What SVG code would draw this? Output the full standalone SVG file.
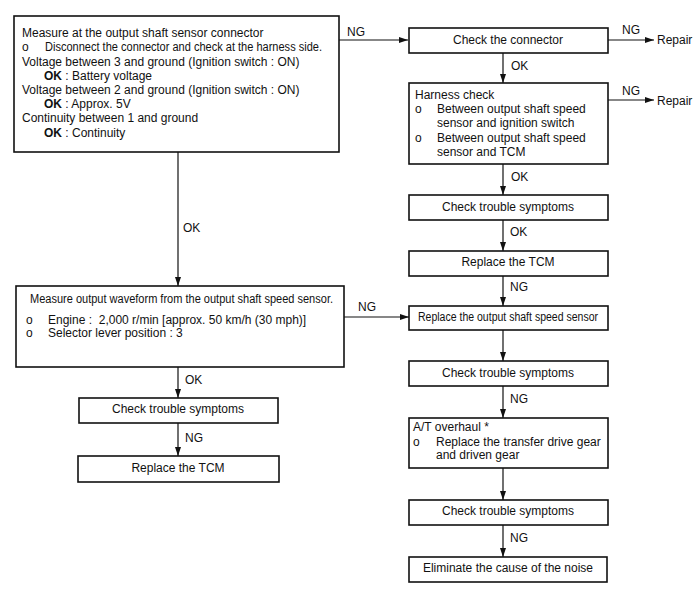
<svg xmlns="http://www.w3.org/2000/svg" width="700" height="600" viewBox="0 0 700 600">
<style>
text{font-family:"Liberation Sans",Arial,sans-serif;font-size:12px;fill:#111}
.c{text-anchor:middle}
.b{font-weight:bold}
rect{fill:#fff;stroke:#111;stroke-width:1.6}
.e line,.e path{stroke:#111;stroke-width:1.2;fill:none}
</style>
<defs>
<marker id="a" markerWidth="9" markerHeight="6" refX="9" refY="3" orient="auto" markerUnits="userSpaceOnUse">
<path d="M0,0 L9,3 L0,6 Z" fill="#111"/>
</marker>
</defs>
<rect width="700" height="600" style="fill:#fff;stroke:none"/>
<g class="e" id="connectors">
<line x1="339" y1="40" x2="408" y2="40" marker-end="url(#a)"/>
<line x1="608" y1="40" x2="654" y2="40" marker-end="url(#a)"/>
<line x1="608" y1="100" x2="654" y2="100" marker-end="url(#a)"/>
<line x1="503" y1="53" x2="503" y2="83" marker-end="url(#a)"/>
<line x1="503" y1="164" x2="503" y2="195" marker-end="url(#a)"/>
<line x1="503" y1="220" x2="503" y2="251" marker-end="url(#a)"/>
<line x1="503" y1="276" x2="503" y2="306" marker-end="url(#a)"/>
<line x1="503" y1="330" x2="503" y2="361" marker-end="url(#a)"/>
<line x1="503" y1="386" x2="503" y2="418" marker-end="url(#a)"/>
<line x1="503" y1="468" x2="503" y2="500" marker-end="url(#a)"/>
<line x1="503" y1="525" x2="503" y2="557" marker-end="url(#a)"/>
<line x1="178" y1="152" x2="178" y2="286" marker-end="url(#a)"/>
<line x1="344" y1="317" x2="409" y2="317" marker-end="url(#a)"/>
<line x1="178" y1="367" x2="178" y2="398" marker-end="url(#a)"/>
<line x1="178" y1="423" x2="178" y2="456" marker-end="url(#a)"/>
<text x="347" y="36">NG</text>
<text x="622" y="34">NG</text>
<text x="657" y="44">Repair</text>
<text x="622" y="95">NG</text>
<text x="657" y="105">Repair</text>
<text x="511" y="70">OK</text>
<text x="511" y="181">OK</text>
<text x="510" y="236">OK</text>
<text x="510" y="291">NG</text>
<text x="510" y="403">NG</text>
<text x="510" y="542">NG</text>
<text x="183" y="232">OK</text>
<text x="358" y="311">NG</text>
<text x="185" y="384">OK</text>
<text x="185" y="442">NG</text>
</g>
<g id="n1">
<rect x="14" y="16" width="325" height="136"/>
<text x="22" y="37">Measure at the output shaft sensor connector</text>
<text x="22" y="51">o</text><text x="45" y="51" textLength="277" lengthAdjust="spacingAndGlyphs">Disconnect the connector and check at the harness side.</text>
<text x="22" y="66">Voltage between 3 and ground (Ignition switch : ON)</text>
<text x="44" y="80"><tspan class="b">OK</tspan> : Battery voltage</text>
<text x="22" y="94">Voltage between 2 and ground (Ignition switch : ON)</text>
<text x="44" y="108"><tspan class="b">OK</tspan> : Approx. 5V</text>
<text x="22" y="122">Continuity between 1 and ground</text>
<text x="44" y="137"><tspan class="b">OK</tspan> : Continuity</text>
</g>
<g id="n2">
<rect x="409" y="28" width="199" height="25"/>
<text class="c" x="508" y="44">Check the connector</text>
</g>
<g id="n3">
<rect x="409" y="83" width="199" height="81"/>
<text x="415" y="99">Harness check</text>
<text x="415" y="113">o</text><text x="437" y="113">Between output shaft speed</text>
<text x="437" y="127">sensor and ignition switch</text>
<text x="415" y="142">o</text><text x="437" y="142">Between output shaft speed</text>
<text x="437" y="156">sensor and TCM</text>
</g>
<g id="n4">
<rect x="409" y="195" width="199" height="25"/>
<text class="c" x="508" y="211">Check trouble symptoms</text>
</g>
<g id="n5">
<rect x="409" y="251" width="199" height="25"/>
<text class="c" x="508" y="266">Replace the TCM</text>
</g>
<g id="n6">
<rect x="409" y="306" width="199" height="24"/>
<text x="418" y="321" textLength="180" lengthAdjust="spacingAndGlyphs">Replace the output shaft speed sensor</text>
</g>
<g id="n7">
<rect x="409" y="361" width="199" height="25"/>
<text class="c" x="508" y="377">Check trouble symptoms</text>
</g>
<g id="n8">
<rect x="409" y="418" width="199" height="50"/>
<text x="413" y="431">A/T overhaul *</text>
<text x="413" y="446">o</text><text x="436" y="446">Replace the transfer drive gear</text>
<text x="436" y="459">and driven gear</text>
</g>
<g id="n9">
<rect x="409" y="500" width="199" height="25"/>
<text class="c" x="508" y="515">Check trouble symptoms</text>
</g>
<g id="n10">
<rect x="409" y="557" width="198" height="25"/>
<text class="c" x="508" y="572">Eliminate the cause of the noise</text>
</g>
<g id="n11">
<rect x="16" y="286" width="328" height="81"/>
<text x="30" y="303" textLength="303" lengthAdjust="spacingAndGlyphs">Measure output waveform from the output shaft speed sensor.</text>
<text x="26" y="324">o</text><text x="48" y="324" xml:space="preserve">Engine :  2,000 r/min [approx. 50 km/h (30 mph)]</text>
<text x="26" y="337">o</text><text x="48" y="337">Selector lever position : 3</text>
</g>
<g id="n12">
<rect x="79" y="398" width="199" height="25"/>
<text class="c" x="178" y="413">Check trouble symptoms</text>
</g>
<g id="n13">
<rect x="78" y="456" width="201" height="26"/>
<text class="c" x="178" y="472">Replace the TCM</text>
</g>
</svg>
